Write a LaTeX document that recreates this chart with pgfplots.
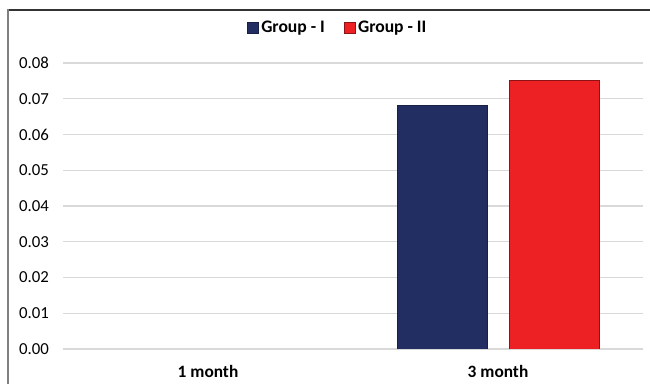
\documentclass[border=0pt]{standalone}
\usepackage{pgfplots}
\pgfplotsset{compat=1.18}
\usepackage{fontspec}
\setmainfont{Carlito}
\definecolor{gblue}{RGB}{34,46,98}
\definecolor{gred}{RGB}{237,32,36}
\definecolor{gridc}{RGB}{217,217,217}
\begin{document}
\begin{tikzpicture}
\useasboundingbox (0pt,0pt) rectangle (487.5pt,288pt);
\draw[color=black!80, line width=1.2pt] (6pt,280.5pt) -- (487.5pt,280.5pt);
\draw[color=black!50, line width=1.2pt] (6pt,0pt) -- (6pt,281.1pt);
\begin{axis}[
  at={(47.25pt,26.25pt)}, anchor=south west,
  scale only axis, width=435pt, height=214.5pt,
  xmin=-0.5, xmax=1.5, ymin=0, ymax=0.08,
  ybar=16.5pt, bar width=67.5pt,
  xtick={0,1}, xticklabels={1 month,3 month},
  ytick={0,0.01,...,0.08},
  scaled y ticks=false,
  axis line style={draw=none}, tick style={draw=none},
  major tick length=0pt,
  ymajorgrids, grid style={gridc, line width=0.9pt},
  /pgf/number format/assume math mode=true,
  yticklabel={\pgfmathprintnumber[fixed,fixed zerofill,precision=2]{\tick}},
  yticklabel style={font=\fontsize{12.6}{14}\selectfont, xshift=-7pt},
  xticklabel style={font=\bfseries\fontsize{13}{15}\selectfont, yshift=-9pt},
  legend columns=2,
  legend style={draw=none, at={(0.474,1.122)}, anchor=center,
    font=\bfseries\fontsize{13.2}{15}\selectfont,
    /tikz/every even column/.append style={column sep=12pt}},
  legend image code/.code={\fill[#1] (0pt,-4pt) rectangle (8.25pt,4.25pt);},
]
\addplot[fill=gblue, draw=gblue!70!black, line width=0.6pt] coordinates {(1,0.0682)};
\addplot[fill=gred, draw=gred!60!black, line width=0.6pt] coordinates {(1,0.0750)};
\legend{Group - I, Group - II}
\end{axis}
\end{tikzpicture}
\end{document}
